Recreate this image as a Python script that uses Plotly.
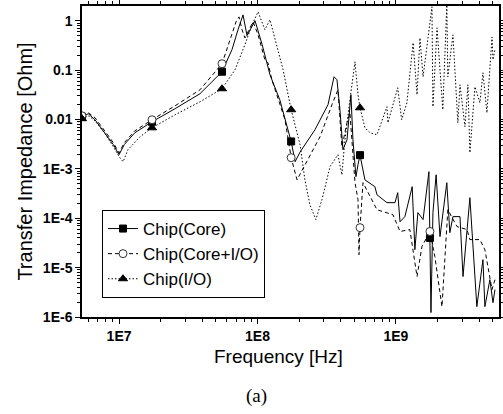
import numpy as np
import plotly.graph_objects as go

# ---------------- data ----------------
core_f = [5.4e6, 6.0e6, 6.7e6, 7.9e6, 9.1e6, 1.0e7, 1.09e7, 1.30e7, 1.73e7, 2.54e7, 3.84e7, 5.54e7,
          6.54e7, 7.23e7, 7.86e7, 8.40e7, 8.83e7, 9.60e7, 1.08e8, 1.23e8, 1.45e8, 1.75e8, 1.87e8,
          2.03e8, 2.60e8, 3.23e8, 3.57e8, 3.75e8, 3.94e8, 4.14e8, 4.43e8, 4.65e8, 4.73e8, 4.89e8,
          5.14e8, 5.32e8, 5.5e8, 5.97e8, 7.05e8, 7.29e8, 8.61e8, 9.84e8, 1.03e9, 1.07e9, 1.16e9,
          1.31e9, 1.37e9, 1.44e9, 1.57e9, 1.73e9, 1.76e9, 1.79e9, 1.85e9, 1.95e9, 2.08e9, 2.33e9,
          2.45e9, 2.58e9, 2.90e9, 3.05e9, 3.42e9, 3.84e9, 4.25e9, 4.39e9, 4.77e9, 5.02e9, 5.19e9]
core_z = [0.0114, 0.0131, 0.0099, 0.0054, 0.0031, 0.00194, 0.0031, 0.0054, 0.0090, 0.0166, 0.0333, 0.093,
          0.26, 0.66, 1.32, 0.50, 0.66, 1.0, 0.33, 0.081, 0.025, 0.0036, 0.0014,
          0.0022, 0.0062, 0.020, 0.0735, 0.064, 0.0158, 0.00245, 0.0039, 0.0158, 0.0318, 0.0039,
          6.95e-4, 0.00122, 0.0019, 6.0e-4, 4.36e-4, 3.0e-4, 2.07e-4, 2.07e-4, 3.3e-4, 8.5e-5, 1.08e-4,
          4.36e-4, 2.31e-5, 1.30e-4, 9.4e-5, 8.8e-4, 4.0e-5, 1.23e-6, 1.30e-4, 7.6e-4, 4.25e-5, 5.26e-4,
          5.1e-5, 1.08e-4, 1.08e-4, 6.6e-6, 2.61e-4, 1.62e-6, 1.45e-5, 1.62e-6, 5.7e-6, 1.95e-6, 3.6e-6]

cio_f = [5.4e6, 6.0e6, 6.7e6, 7.9e6, 9.1e6, 1.0e7, 1.09e7, 1.30e7, 1.73e7, 2.54e7, 3.84e7, 5.54e7,
         6.33e7, 7.0e7, 7.35e7, 7.73e7, 8.12e7, 8.68e7, 9.28e7, 1.01e8, 1.13e8, 1.19e8, 1.27e8,
         1.58e8, 1.75e8, 1.93e8, 2.20e8, 2.83e8, 3.45e8, 3.81e8, 4.07e8, 4.43e8, 4.65e8, 5.06e8,
         5.32e8, 5.41e8, 5.5e8, 5.78e8, 7.29e8, 9.51e8, 1.07e9, 1.26e9, 1.42e9, 1.54e9, 1.76e9,
         1.91e9, 2.15e9, 2.37e9, 2.76e9, 3.26e9, 3.42e9, 4.04e9, 4.39e9, 4.94e9, 5.19e9]
cio_z = [0.0119, 0.0137, 0.0109, 0.0059, 0.0034, 0.0021, 0.0034, 0.0059, 0.0099, 0.019, 0.040, 0.135,
         0.41, 0.955, 1.20, 0.66, 0.45, 0.66, 0.955, 0.52, 0.163, 0.141, 0.064,
         0.0099, 0.00169, 6.0e-4, 0.00122, 0.0045, 0.020, 0.040, 0.0028, 0.0086, 0.0137, 5.26e-4,
         2.38e-4, 1.83e-5, 6.45e-5, 5.26e-4, 1.49e-4, 1.18e-4, 5.4e-5, 5.9e-5, 6.6e-6, 2.66e-5, 5.4e-5,
         1.67e-5, 1.62e-6, 1.49e-4, 6.8e-5, 5.9e-5, 3.7e-5, 3.7e-5, 2.31e-5, 3.6e-6, 5.7e-6]

io_f = [5.4e6, 6.0e6, 6.7e6, 7.9e6, 9.1e6, 1.0e7, 1.07e7, 1.16e7, 1.42e7, 1.73e7, 2.54e7, 3.84e7,
        5.54e7, 6.88e7, 8.12e7, 9.12e7, 1.01e8, 1.10e8, 1.13e8, 1.23e8, 1.34e8, 1.53e8, 1.75e8,
        2.03e8, 2.20e8, 2.39e8, 2.64e8, 2.92e8, 3.34e8, 3.81e8, 4.07e8, 4.28e8, 4.65e8, 5.06e8,
        5.32e8, 5.5e8, 5.97e8, 6.49e8, 7.29e8, 8.61e8, 8.75e8, 1.03e9, 1.10e9, 1.20e9, 1.33e9,
        1.42e9, 1.49e9, 1.57e9, 1.82e9, 1.85e9, 1.98e9, 2.18e9, 2.33e9, 2.37e9, 2.58e9, 2.80e9,
        2.90e9, 3.15e9, 3.31e9, 3.42e9, 3.72e9, 4.04e9, 4.25e9, 4.54e9, 4.94e9, 5.02e9, 5.19e9]
io_z = [0.0104, 0.0119, 0.0095, 0.0052, 0.0028, 0.00177, 0.0014, 0.00245, 0.0045, 0.0068, 0.0125, 0.0229,
        0.042, 0.102, 0.33, 0.83, 1.52, 0.83, 0.66, 1.05, 0.41, 0.102, 0.0158,
        0.0031, 6.0e-4, 1.88e-4, 9.4e-5, 2.38e-4, 0.00111, 0.00194, 7.6e-4, 0.0039, 0.025, 0.148,
        0.0318, 0.0173, 0.0068, 0.0054, 0.0049, 0.0182, 0.0086, 0.044, 0.0099, 0.0219, 0.36,
        0.0318, 0.45, 0.0735, 1.92, 0.0182, 0.72, 0.0158, 2.1, 0.0735, 0.52, 0.0086,
        0.0506, 0.00715, 0.0506, 0.00213, 0.0461, 0.0219, 0.0886, 0.0137, 0.47, 0.163, 0.26]

marker_freqs = [5.4e6, 1.73e7, 5.54e7, 1.75e8, 5.5e8, 1.76e9]

series_names = ["Chip(Core)", "Chip(Core+I/O)", "Chip(I/O)"]

x_tick_vals = [1e7, 1e8, 1e9]
x_tick_text = ["1E7", "1E8", "1E9"]
y_tick_vals = [1, 0.1, 0.01, 1e-3, 1e-4, 1e-5, 1e-6]
y_tick_text = ["1", "0.1", "0.01", "1E-3", "1E-4", "1E-5", "1E-6"]

# ---------------- figure ----------------
W, H = 503, 414
ML, MR, MT, MB = 82, 4, 6, 97
PW, PH = W - ML - MR, H - MT - MB

FONT = "Arial, Liberation Sans, sans-serif"

styles = [
    dict(dash="solid", symbol="square", size=7, fill="black", lc="black"),
    dict(dash="4px,3px", symbol="circle", size=8, fill="white", lc="#333333"),
    dict(dash="1.5px,2px", symbol="triangle-up", size=8, fill="black", lc="black"),
]

fig = go.Figure()
for name, f, z, st in zip(series_names, [core_f, cio_f, io_f], [core_z, cio_z, io_z], styles):
    f = np.array(f)
    z = np.array(z)
    is_mark = np.array([any(np.isclose(v, m, rtol=1e-6) for m in marker_freqs) for v in f])
    line = dict(color="black", width=1, dash=st["dash"])
    marker = dict(symbol=st["symbol"], color=st["fill"], size=st["size"],
                  line=dict(color=st["lc"], width=1))
    fig.add_trace(go.Scatter(x=f, y=z, mode="lines", line=line, showlegend=False,
                             legendgroup=name, hoverinfo="skip"))
    fig.add_trace(go.Scatter(x=f[is_mark], y=z[is_mark], mode="markers", marker=marker,
                             showlegend=False, legendgroup=name))
    fig.add_trace(go.Scatter(x=[None], y=[None], mode="lines+markers", name=name,
                             line=line, marker=marker, legendgroup=name))

minor_x = [m * 10.0 ** e for e in range(6, 10) for m in range(2, 10)]
minor_y = [m * 10.0 ** e for e in range(-6, 1) for m in range(2, 10)]

axis_common = dict(
    type="log", showline=True, linecolor="black", linewidth=1.5, mirror="ticks",
    ticks="outside", ticklen=5, tickwidth=1, tickcolor="black",
    showgrid=False, zeroline=False,
    tickfont=dict(family=FONT, size=14, color="black", weight="bold"),
)

fig.update_xaxes(**axis_common,
                 range=[np.log10(5.4e6), np.log10(5.55e9)],
                 tickvals=x_tick_vals, ticktext=x_tick_text,
                 minor=dict(tickvals=minor_x, ticks="outside", ticklen=3, tickcolor="black", showgrid=False))
fig.update_yaxes(**axis_common,
                 range=[-6, 0.30],
                 tickvals=y_tick_vals, ticktext=y_tick_text,
                 minor=dict(tickvals=minor_y, ticks="outside", ticklen=3, tickcolor="black", showgrid=False),
                 title=dict(text="Transfer Impedance [Ohm]", standoff=5,
                            font=dict(family=FONT, size=20, color="black")))

def px2paper(px, py):
    return (px - ML) / PW, (H - MB - py) / PH

ax, ay = px2paper(278, 356)
bx, by = px2paper(256, 396)
fig.add_annotation(text="Frequency [Hz]", x=ax, y=ay, xref="paper", yref="paper",
                   xanchor="center", yanchor="middle",
                   showarrow=False, font=dict(family=FONT, size=19, color="black"))
fig.add_annotation(text="(a)", x=bx, y=by, xref="paper", yref="paper",
                   xanchor="center", yanchor="middle",
                   showarrow=False, font=dict(family="Liberation Serif, DejaVu Serif, serif", size=19, color="black"))

lx, ly = px2paper(102, 210)
fig.update_layout(
    width=W, height=H,
    margin=dict(l=ML, r=MR, t=MT, b=MB, pad=0, autoexpand=False),
    paper_bgcolor="white", plot_bgcolor="white",
    showlegend=True,
    legend=dict(x=lx, y=ly, xanchor="left", yanchor="top",
                bgcolor="white", bordercolor="black", borderwidth=1,
                font=dict(family=FONT, size=17, color="black"),
                itemsizing="trace", tracegroupgap=0),
)

fig.write_html("out.html",
               config={"displayModeBar": False},
               post_script="document.body.style.margin='0';document.body.style.padding='0';"
                           "document.documentElement.style.overflow='hidden';")
